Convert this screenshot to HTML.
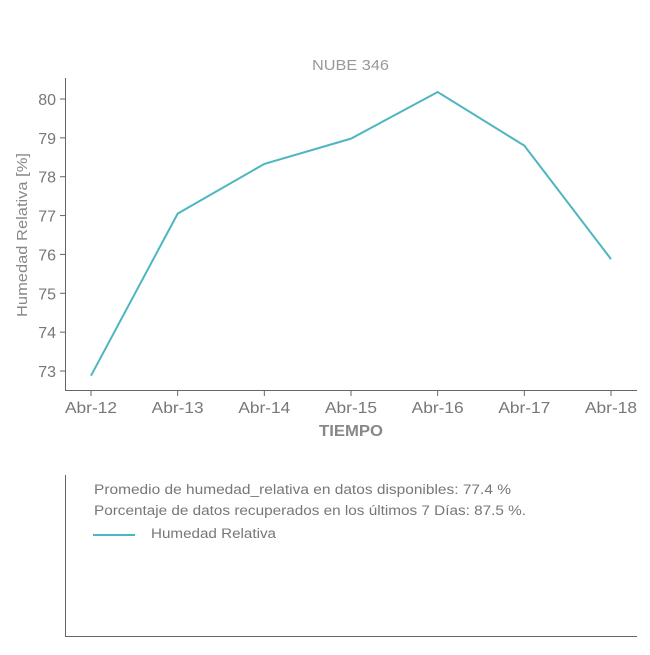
<!DOCTYPE html>
<html><head><meta charset="utf-8"><style>
body{margin:0;background:#fff;font-family:"Liberation Sans",sans-serif;}
svg text{font-family:"Liberation Sans",sans-serif;}
</style></head><body>
<svg width="650" height="650" viewBox="0 0 650 650">
<rect width="650" height="650" fill="#fff"/>
<text x="312" y="70" textLength="77" lengthAdjust="spacingAndGlyphs" font-size="15" fill="#999">NUBE 346</text>
<g id="axes"></g>
<text x="319" y="436" textLength="64" lengthAdjust="spacingAndGlyphs" font-size="16" font-weight="bold" fill="#888">TIEMPO</text>
<text transform="translate(27,317) rotate(-90)" textLength="164" lengthAdjust="spacingAndGlyphs" font-size="15" fill="#888">Humedad Relativa [%]</text>
<g>
<line x1="65.5" y1="475" x2="65.5" y2="637" stroke="#666" stroke-width="1"/>
<line x1="65" y1="636.5" x2="637" y2="636.5" stroke="#666" stroke-width="1"/>
<text x="94" y="494" textLength="417" lengthAdjust="spacingAndGlyphs" font-size="13.5" fill="#777">Promedio de humedad_relativa en datos disponibles: 77.4 %</text>
<text x="94" y="515" textLength="432" lengthAdjust="spacingAndGlyphs" font-size="13.5" fill="#777">Porcentaje de datos recuperados en los últimos 7 Días: 87.5 %.</text>
<line x1="93" y1="535" x2="135" y2="535" stroke="#4db6c0" stroke-width="2"/>
<text x="151" y="538" textLength="125" lengthAdjust="spacingAndGlyphs" font-size="13.5" fill="#777">Humedad Relativa</text>
</g>
</svg>
<script>
const categories=["Abr-12","Abr-13","Abr-14","Abr-15","Abr-16","Abr-17","Abr-18"];
const humidity=[72.88,77.05,78.33,78.98,80.18,78.8,75.88];
const yTicks=[73,74,75,76,77,78,79,80];
const NS="http://www.w3.org/2000/svg";
const g=document.getElementById('axes');
function xs(i){return 91+i*(611-91)/(categories.length-1);}
function ys(v){return 371-(v-73)*(371-99)/7;}
function mk(t,a){const e=document.createElementNS(NS,t);for(const k in a)e.setAttribute(k,a[k]);g.appendChild(e);return e;}
const ya=mk('line',{x1:65.5,y1:78,x2:65.5,y2:390,stroke:'#666'});


const xa=mk('line',{x1:65,y1:390.5,x2:637,y2:390.5,stroke:'#666'});


yTicks.forEach(v=>{
 const y=ys(v);
 mk('line',{x1:60,y1:y,x2:65,y2:y,stroke:'#666'});
 const t=mk('text',{x:56,y:y+6,'text-anchor':'end','font-size':16,fill:'#777'});
 t.textContent=v;
 
 
});
categories.forEach((c,i)=>{
 const x=xs(i);
 mk('line',{x1:x,y1:391,x2:x,y2:396,stroke:'#666'});
 const t=mk('text',{x:x-26,y:413,textLength:52,lengthAdjust:'spacingAndGlyphs','font-size':16,fill:'#777'});
 t.textContent=c;
 
 
});
const p=mk('polyline',{points:humidity.map((v,i)=>xs(i)+','+ys(v)).join(' '),fill:'none',stroke:'#4db6c0','stroke-width':2});


</script>
</body></html>
